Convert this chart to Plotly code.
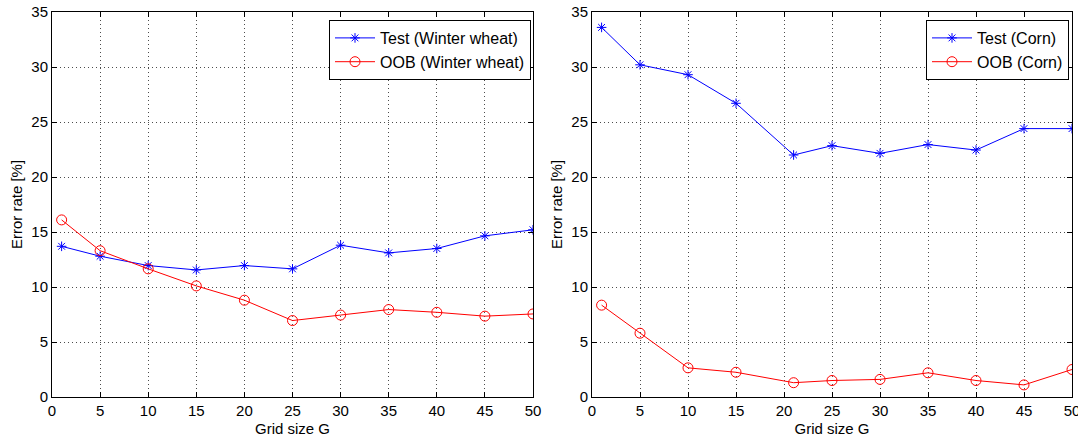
import plotly.graph_objects as go

x_wheat = [1, 5, 10, 15, 20, 25, 30, 35, 40, 45, 50]
test_wheat = [13.7, 12.8, 11.95, 11.55, 11.95, 11.65, 13.8, 13.1, 13.5, 14.65, 15.2]
oob_wheat = [16.1, 13.3, 11.65, 10.1, 8.8, 6.95, 7.45, 7.95, 7.7, 7.35, 7.55]

x_corn = [1, 5, 10, 15, 21, 25, 30, 35, 40, 45, 50]
test_corn = [33.6, 30.2, 29.3, 26.7, 22.0, 22.85, 22.15, 22.95, 22.45, 24.4, 24.4]
oob_corn = [8.35, 5.8, 2.65, 2.25, 1.3, 1.5, 1.6, 2.2, 1.5, 1.1, 2.5]

x_ticks = [0, 5, 10, 15, 20, 25, 30, 35, 40, 45, 50]
y_ticks = [0, 5, 10, 15, 20, 25, 30, 35]

FONT = "Liberation Sans, Arial, sans-serif"
BLUE = "#0000ff"
RED = "#ff0000"

W, H = 1078, 439

fig = go.Figure()

def add_pair(x, test, oob, name, xa, ya, leg):
    fig.add_trace(go.Scatter(
        x=x, y=test, mode="lines+markers", name=f"Test ({name})",
        line=dict(color=BLUE, width=1),
        marker=dict(symbol="asterisk-open", size=8, color=BLUE, line=dict(color=BLUE, width=1)),
        xaxis=xa, yaxis=ya, legend=leg))
    fig.add_trace(go.Scatter(
        x=x, y=oob, mode="lines+markers", name=f"OOB ({name})",
        line=dict(color=RED, width=1),
        marker=dict(symbol="circle-open", size=10, color=RED, line=dict(color=RED, width=1)),
        xaxis=xa, yaxis=ya, legend=leg))

add_pair(x_wheat, test_wheat, oob_wheat, "Winter wheat", "x", "y", "legend")
add_pair(x_corn, test_corn, oob_corn, "Corn", "x2", "y2", "legend2")

def px_x(p):
    return p / W

def px_y(p):
    return 1 - p / H

ydom = [px_y(397), px_y(12)]
xdom1 = [px_x(52), px_x(533)]
xdom2 = [px_x(592), px_x(1072)]

axis_common = dict(
    showline=True, linecolor="black", linewidth=1, mirror="allticks",
    ticks="inside", ticklen=5, tickcolor="black", tickwidth=1,
    showgrid=True, gridcolor="rgba(0,0,0,0.7)", griddash="1px,3px", gridwidth=1,
    zeroline=False, tickfont=dict(family=FONT, size=15, color="black"),
    title_font=dict(family=FONT, size=15, color="black"),
    ticklabeloverflow="allow",
)

leg_common = dict(
    xanchor="right", yanchor="top",
    bgcolor="white", bordercolor="black", borderwidth=1,
    font=dict(family=FONT, size=16, color="black"),
    tracegroupgap=0, itemwidth=40,
)

fig.update_layout(
    width=W, height=H,
    margin=dict(l=0, r=0, t=0, b=0, autoexpand=False),
    paper_bgcolor="white", plot_bgcolor="white",
    font=dict(family=FONT, size=15, color="black"),
    xaxis=dict(domain=xdom1, range=[0, 50], tickvals=x_ticks, anchor="y",
               title=dict(text="Grid size G", standoff=5), **axis_common),
    yaxis=dict(domain=ydom, range=[0, 35], tickvals=y_ticks, anchor="x",
               title=dict(text="Error rate [%]", standoff=5), **axis_common),
    xaxis2=dict(domain=xdom2, range=[0, 50], tickvals=x_ticks, anchor="y2",
                title=dict(text="Grid size G", standoff=5), **axis_common),
    yaxis2=dict(domain=ydom, range=[0, 35], tickvals=y_ticks, anchor="x2",
                title=dict(text="Error rate [%]", standoff=5), **axis_common),
    legend=dict(x=px_x(531), y=px_y(20), **leg_common),
    legend2=dict(x=px_x(1069), y=px_y(20), **leg_common),
    showlegend=True,
)

fig.write_html(
    "out.html",
    config={"displayModeBar": False},
    post_script="document.body.style.margin='0';document.body.style.overflow='hidden';",
)
